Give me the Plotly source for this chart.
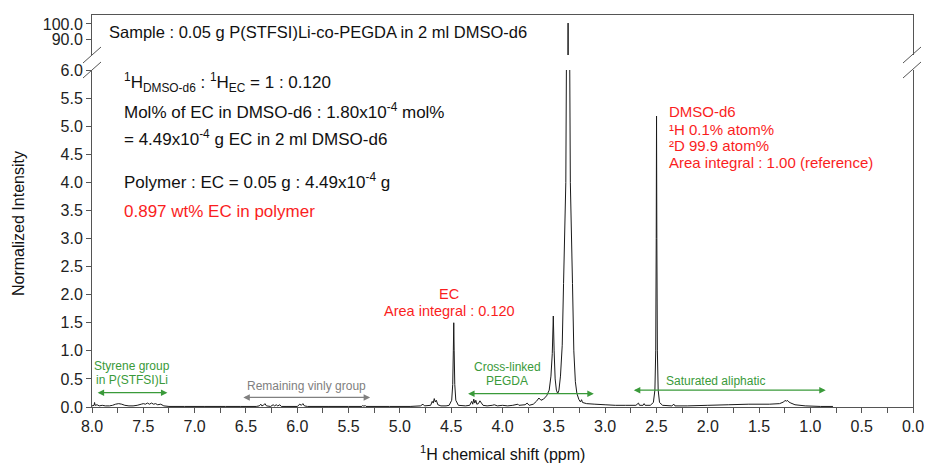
import plotly.graph_objects as go

# ---------------- data ----------------
shift_ppm = [
    8.00, 7.98, 7.975, 7.97, 7.95, 7.93, 7.90, 7.87, 7.83, 7.80, 7.77, 7.74, 7.71, 7.68,
    7.64, 7.60, 7.56, 7.52, 7.50, 7.48, 7.46, 7.44, 7.42, 7.40, 7.38, 7.36, 7.33, 7.30,
    7.25, 7.10, 6.90, 6.70, 6.55, 6.40, 6.37, 6.355, 6.345, 6.33, 6.315, 6.30, 6.26,
    6.235, 6.22, 6.205, 6.19, 6.17, 6.155, 6.10, 6.00, 5.975, 5.96, 5.945, 5.93, 5.90,
    5.70, 5.50, 5.37, 5.36, 5.35, 5.34, 5.33, 5.10, 4.90, 4.80, 4.775, 4.76, 4.70,
    4.685, 4.675, 4.665, 4.655, 4.645, 4.63, 4.60, 4.55, 4.52, 4.495, 4.485, 4.479,
    4.475, 4.471, 4.465, 4.455, 4.43, 4.36, 4.32, 4.30, 4.29, 4.28, 4.27, 4.26, 4.25,
    4.235, 4.22, 4.205, 4.19, 4.15, 4.10, 4.08, 4.05, 4.00, 3.95, 3.90, 3.85, 3.84,
    3.78, 3.76, 3.74, 3.70, 3.67, 3.645, 3.625, 3.60, 3.57, 3.545, 3.528, 3.515, 3.505,
    3.497, 3.487, 3.475, 3.462, 3.45, 3.435, 3.418, 3.405, 3.383, 3.376, 3.368, 3.362,
    3.361, 3.360, 3.354, 3.346, 3.339, 3.318, 3.305, 3.29, 3.275, 3.255, 3.24, 3.23,
    3.22, 3.18, 3.10, 3.00, 2.90, 2.80, 2.70, 2.675, 2.665, 2.63, 2.62, 2.61, 2.56,
    2.53, 2.515, 2.507, 2.502, 2.499, 2.496, 2.491, 2.483, 2.47, 2.44, 2.35, 2.33,
    2.32, 2.20, 2.00, 1.80, 1.60, 1.40, 1.30, 1.26, 1.245, 1.235, 1.225, 1.21, 1.19,
    1.15, 1.05, 0.90, 0.78,
]
intensity = [
    0.02, 0.03, 0.08, 0.03, 0.04, 0.02, 0.03, 0.02, 0.02, 0.03, 0.05, 0.06, 0.05, 0.03,
    0.02, 0.02, 0.03, 0.05, 0.06, 0.05, 0.07, 0.05, 0.07, 0.05, 0.06, 0.04, 0.05, 0.02,
    0.01, 0.01, 0.01, 0.01, 0.01, 0.01, 0.02, 0.05, 0.02, 0.03, 0.06, 0.02, 0.01,
    0.04, 0.02, 0.04, 0.02, 0.04, 0.01, 0.01, 0.01, 0.05, 0.03, 0.06, 0.02, 0.01,
    0.01, 0.01, 0.01, 0.03, 0.01, 0.03, 0.01, 0.01, 0.01, 0.02, 0.05, 0.02, 0.03,
    0.10, 0.07, 0.15, 0.09, 0.12, 0.04, 0.02, 0.02, 0.03, 0.12, 0.40, 1.00,
    1.50, 1.00, 0.40, 0.12, 0.03, 0.02, 0.03, 0.10, 0.05, 0.14, 0.07, 0.12, 0.05,
    0.06, 0.11, 0.07, 0.03, 0.02, 0.03, 0.04, 0.02, 0.03, 0.02, 0.03, 0.05, 0.03,
    0.04, 0.07, 0.03, 0.05, 0.10, 0.16, 0.12, 0.14, 0.20, 0.30, 0.55, 0.95, 1.62,
    1.00, 0.50, 0.30, 0.24, 0.30, 0.55, 1.10, 2.20, 4.00, 6.50, 15.0, 80.0,
    100.6, 80.0, 15.0, 6.50, 4.00, 2.20, 1.00, 0.45, 0.24, 0.13, 0.09, 0.13,
    0.08, 0.06, 0.05, 0.04, 0.03, 0.03, 0.03, 0.07, 0.03, 0.03, 0.06, 0.03, 0.03,
    0.08, 0.30, 1.00, 3.00, 5.18, 3.00, 1.00, 0.30, 0.08, 0.03, 0.02, 0.05,
    0.02, 0.02, 0.03, 0.04, 0.05, 0.05, 0.06, 0.09, 0.12, 0.10, 0.12, 0.09, 0.07,
    0.04, 0.02, 0.01, 0.01,
]

x_tick_vals = [8.0, 7.5, 7.0, 6.5, 6.0, 5.5, 5.0, 4.5, 4.0, 3.5, 3.0, 2.5, 2.0, 1.5, 1.0, 0.5, 0.0]
x_tick_text = ["8.0", "7.5", "7.0", "6.5", "6.0", "5.5", "5.0", "4.5", "4.0", "3.5", "3.0",
               "2.5", "2.0", "1.5", "1.0", "0.5", "0.0"]
y_low_vals = [0.0, 0.5, 1.0, 1.5, 2.0, 2.5, 3.0, 3.5, 4.0, 4.5, 5.0, 5.5, 6.0]
y_low_text = ["0.0", "0.5", "1.0", "1.5", "2.0", "2.5", "3.0", "3.5", "4.0", "4.5", "5.0", "5.5", "6.0"]
y_up_vals = [90.0, 100.0]
y_up_text = ["90.0", "100.0"]

# region ranges (ppm)
styrene_range = (7.96, 7.265)
vinyl_range = (6.54, 5.29)
pegda_range = (4.35, 3.11)
aliphatic_range = (2.735, 0.85)

# ---------------- layout geometry ----------------
W, H = 925, 466
L, R, T, B = 92, 12, 15, 59
PW, PH = W - L - R, H - T - B


def px(xp):
    return (xp - L) / PW


def py(yp):
    return (H - B - yp) / PH


FONT = "Arial, 'Liberation Sans', sans-serif"
FRAME = "#555555"
GREEN = "#3a9a3a"
GRAY = "#808080"
RED = "#fa1e1e"

fig = go.Figure()
for xa, ya in (("x", "y"), ("x2", "y2")):
    fig.add_trace(go.Scatter(x=shift_ppm, y=intensity, mode="lines", xaxis=xa, yaxis=ya,
                             line=dict(color="#1a1a1a", width=1, simplify=False),
                             showlegend=False, hoverinfo="skip"))

low_top = py(70)
up_bottom = py(55)

fig.update_layout(
    width=W, height=H, margin=dict(l=L, r=R, t=T, b=B, autoexpand=False),
    paper_bgcolor="white", plot_bgcolor="white",
    font=dict(family=FONT, size=16, color="#222222"),
    showlegend=False,
    xaxis=dict(domain=[0, 1], anchor="y", range=[8.0, 0.0], tickvals=x_tick_vals,
               ticktext=x_tick_text, ticks="outside", ticklen=5, tickwidth=1,
               tickcolor=FRAME, showline=True, linecolor=FRAME, linewidth=1,
               showgrid=False, zeroline=False, automargin=False,
               minor=dict(dtick=0.25, tick0=0, ticks="outside", ticklen=5,
                          tickcolor=FRAME, showgrid=False)),
    yaxis=dict(domain=[0, low_top], anchor="x", range=[0, 6.0], tickvals=y_low_vals,
               ticktext=y_low_text, ticks="outside", ticklen=5, tickcolor=FRAME,
               showline=True, mirror=True, linecolor=FRAME, linewidth=1,
               showgrid=False, zeroline=False, automargin=False),
    xaxis2=dict(domain=[0, 1], anchor="y2", matches="x", range=[8.0, 0.0], side="top",
                showticklabels=False, ticks="", showline=True, linecolor=FRAME,
                linewidth=1, showgrid=False, zeroline=False, automargin=False),
    yaxis2=dict(domain=[up_bottom, 1], anchor="x2", range=[80, 105.8],
                tickvals=y_up_vals, ticktext=y_up_text, ticks="outside", ticklen=5,
                tickcolor=FRAME, showline=True, mirror=True, linecolor=FRAME,
                linewidth=1, showgrid=False, zeroline=False, automargin=False),
)

# axis break marks
for x0 in (83, 903):
    for (ya, yb) in ((63, 47), (78, 62)):
        fig.add_shape(type="line", xref="paper", yref="paper",
                      x0=px(x0), y0=py(ya), x1=px(x0 + 18), y1=py(yb),
                      line=dict(color=FRAME, width=1))

ann = []


def text(xp, yp, s, size, color="#111111", xanchor="left"):
    ann.append(dict(xref="paper", yref="paper", x=px(xp), y=py(yp), text=s,
                    showarrow=False, xanchor=xanchor, yanchor="middle",
                    font=dict(size=size, color=color, family=FONT)))


text(107, 32, "Sample : 0.05 g P(STFSI)Li-co-PEGDA in 2 ml DMSO-d6", 16.5)
text(122, 83, "<sup>1</sup>H<sub>DMSO-d6</sub> : <sup>1</sup>H<sub>EC</sub> = 1 : 0.120", 17)
text(122, 111, "Mol% of EC in DMSO-d6 : 1.80x10<sup>-4</sup> mol%", 17)
text(122, 138, "= 4.49x10<sup>-4</sup> g EC in 2 ml DMSO-d6", 17)
text(122, 181, "Polymer : EC = 0.05 g : 4.49x10<sup>-4</sup> g", 17)
text(122, 211, "0.897 wt% EC in polymer", 17, RED)

text(667, 111, "DMSO-d6", 15, RED)
text(667, 129, "¹H 0.1% atom%", 15, RED)
text(667, 146, "²D 99.9 atom%", 15, RED)
text(667, 162, "Area integral : 1.00 (reference)", 15, RED)

text(449, 294, "EC", 14.5, RED, "center")
text(449, 311, "Area integral : 0.120", 14.5, RED, "center")

text(132, 366, "Styrene group", 12, GREEN, "center")
text(132, 380, "in P(STFSI)Li", 12, GREEN, "center")
text(306, 386, "Remaining vinly group", 12, GRAY, "center")
text(507, 367, "Cross-linked", 12, GREEN, "center")
text(507, 381, "PEGDA", 12, GREEN, "center")
text(715, 381, "Saturated aliphatic", 12, GREEN, "center")

# axis titles
ann.append(dict(xref="paper", yref="paper", x=px(18), y=py(224), text="Normalized Intensity",
                textangle=-90, showarrow=False, xanchor="center", yanchor="middle",
                font=dict(size=16, color="#111111", family=FONT)))
ann.append(dict(xref="paper", yref="paper", x=px(502), y=py(453),
                text="<sup>1</sup>H chemical shift (ppm)", showarrow=False,
                xanchor="center", yanchor="middle",
                font=dict(size=16, color="#111111", family=FONT)))

# double-headed range arrows
for (a, b), yv, col in ((styrene_range, 0.255, GREEN), (vinyl_range, 0.17, GRAY),
                        (pegda_range, 0.237, GREEN), (aliphatic_range, 0.30, GREEN)):
    ann.append(dict(xref="x", yref="y", x=b, y=yv, ax=a, ay=yv, axref="x", ayref="y",
                    text="", showarrow=True, arrowhead=2, arrowsize=1, arrowwidth=1.3,
                    arrowside="end+start", arrowcolor=col, standoff=0, startstandoff=0))

fig.update_layout(annotations=ann)
fig.write_html("out.html", config={"displayModeBar": False})
